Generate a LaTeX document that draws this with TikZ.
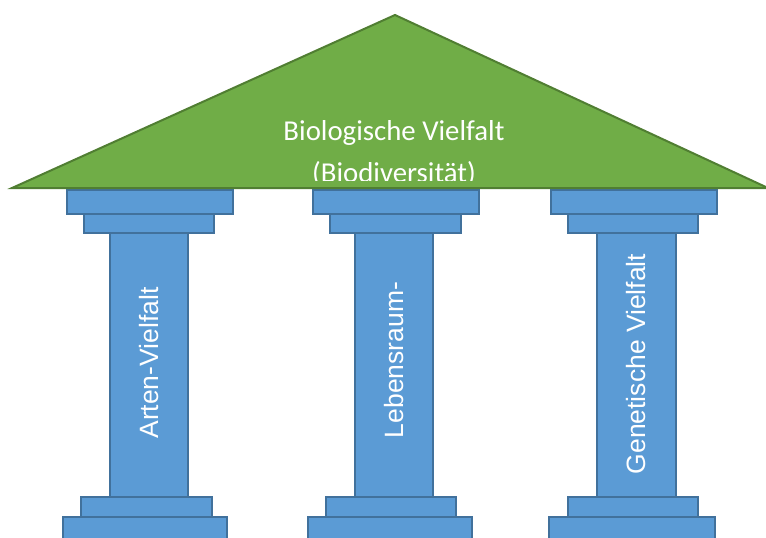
\documentclass[tikz,border=0pt]{standalone}
\usepackage{fontspec}
\setmainfont{Liberation Sans}
\newfontfamily\roofface{Carlito}
\definecolor{pblue}{RGB}{91,155,213}
\definecolor{pborder}{RGB}{65,113,156}
\definecolor{rgreen}{RGB}{112,173,71}
\definecolor{rborder}{RGB}{80,126,50}
\begin{document}
\begin{tikzpicture}[x=1pt,y=-1pt,
  slab/.style={rectangle, fill=pblue, draw=pborder, line width=2pt, inner sep=0pt, outer sep=0pt},
  ptext/.style={text=white, font=\fontsize{26.5}{30}\selectfont, rotate=90, inner sep=0pt},
  rtext/.style={text=white, font=\roofface\fontsize{28.8}{36}\selectfont, inner sep=0pt, anchor=base}]
\useasboundingbox (0,0) rectangle (766,538);
% left pillar
\node[slab, minimum width=78, minimum height=264] (lshaft) at (149,365) {};
\node[slab, minimum width=166, minimum height=24] (ltop) at (150,202) {};
\node[slab, minimum width=130, minimum height=19] (lcap) at (149,223.5) {};
\node[slab, minimum width=131, minimum height=20] (lbase) at (146.5,507) {};
\node[slab, minimum width=164, minimum height=28] (lfoot) at (145,531) {};
\node[ptext] (ltext) at ([yshift=2]lshaft.center) {Arten-Vielfalt};
% middle pillar
\node[slab, minimum width=78, minimum height=264] (mshaft) at (394,365) {};
\node[slab, minimum width=166, minimum height=24] (mtop) at (396,202) {};
\node[slab, minimum width=131, minimum height=19] (mcap) at (395.5,223.5) {};
\node[slab, minimum width=130, minimum height=20] (mbase) at (391,507) {};
\node[slab, minimum width=164, minimum height=28] (mfoot) at (390,531) {};
\node[ptext] (mtext) at ([yshift=5]mshaft.center) {Lebensraum-};
% right pillar
\node[slab, minimum width=79, minimum height=264] (rshaft) at (636.5,365) {};
\node[slab, minimum width=166, minimum height=24] (rtop) at (634,202) {};
\node[slab, minimum width=130, minimum height=19] (rcap) at (633,223.5) {};
\node[slab, minimum width=130, minimum height=20] (rbase) at (633,507) {};
\node[slab, minimum width=166, minimum height=28] (rfoot) at (632,531) {};
\node[ptext] (rtext) at ([yshift=1]rshaft.center) {Genetische Vielfalt};
% roof
\coordinate (apex) at (395,15);
\coordinate (rl) at (12,188);
\coordinate (rr) at (768,188);
\draw[fill=rgreen, draw=rborder, line width=2pt, line join=miter] (rl) -- (apex) -- (rr) -- cycle;
\begin{scope}
\clip (0,0) rectangle (766,180);
\node[rtext] (roof1) at (394,140.5) {Biologische Vielfalt};
\node[rtext] (roof2) at (394,182.5) {(Biodiversität)};
\end{scope}
\end{tikzpicture}
\end{document}
